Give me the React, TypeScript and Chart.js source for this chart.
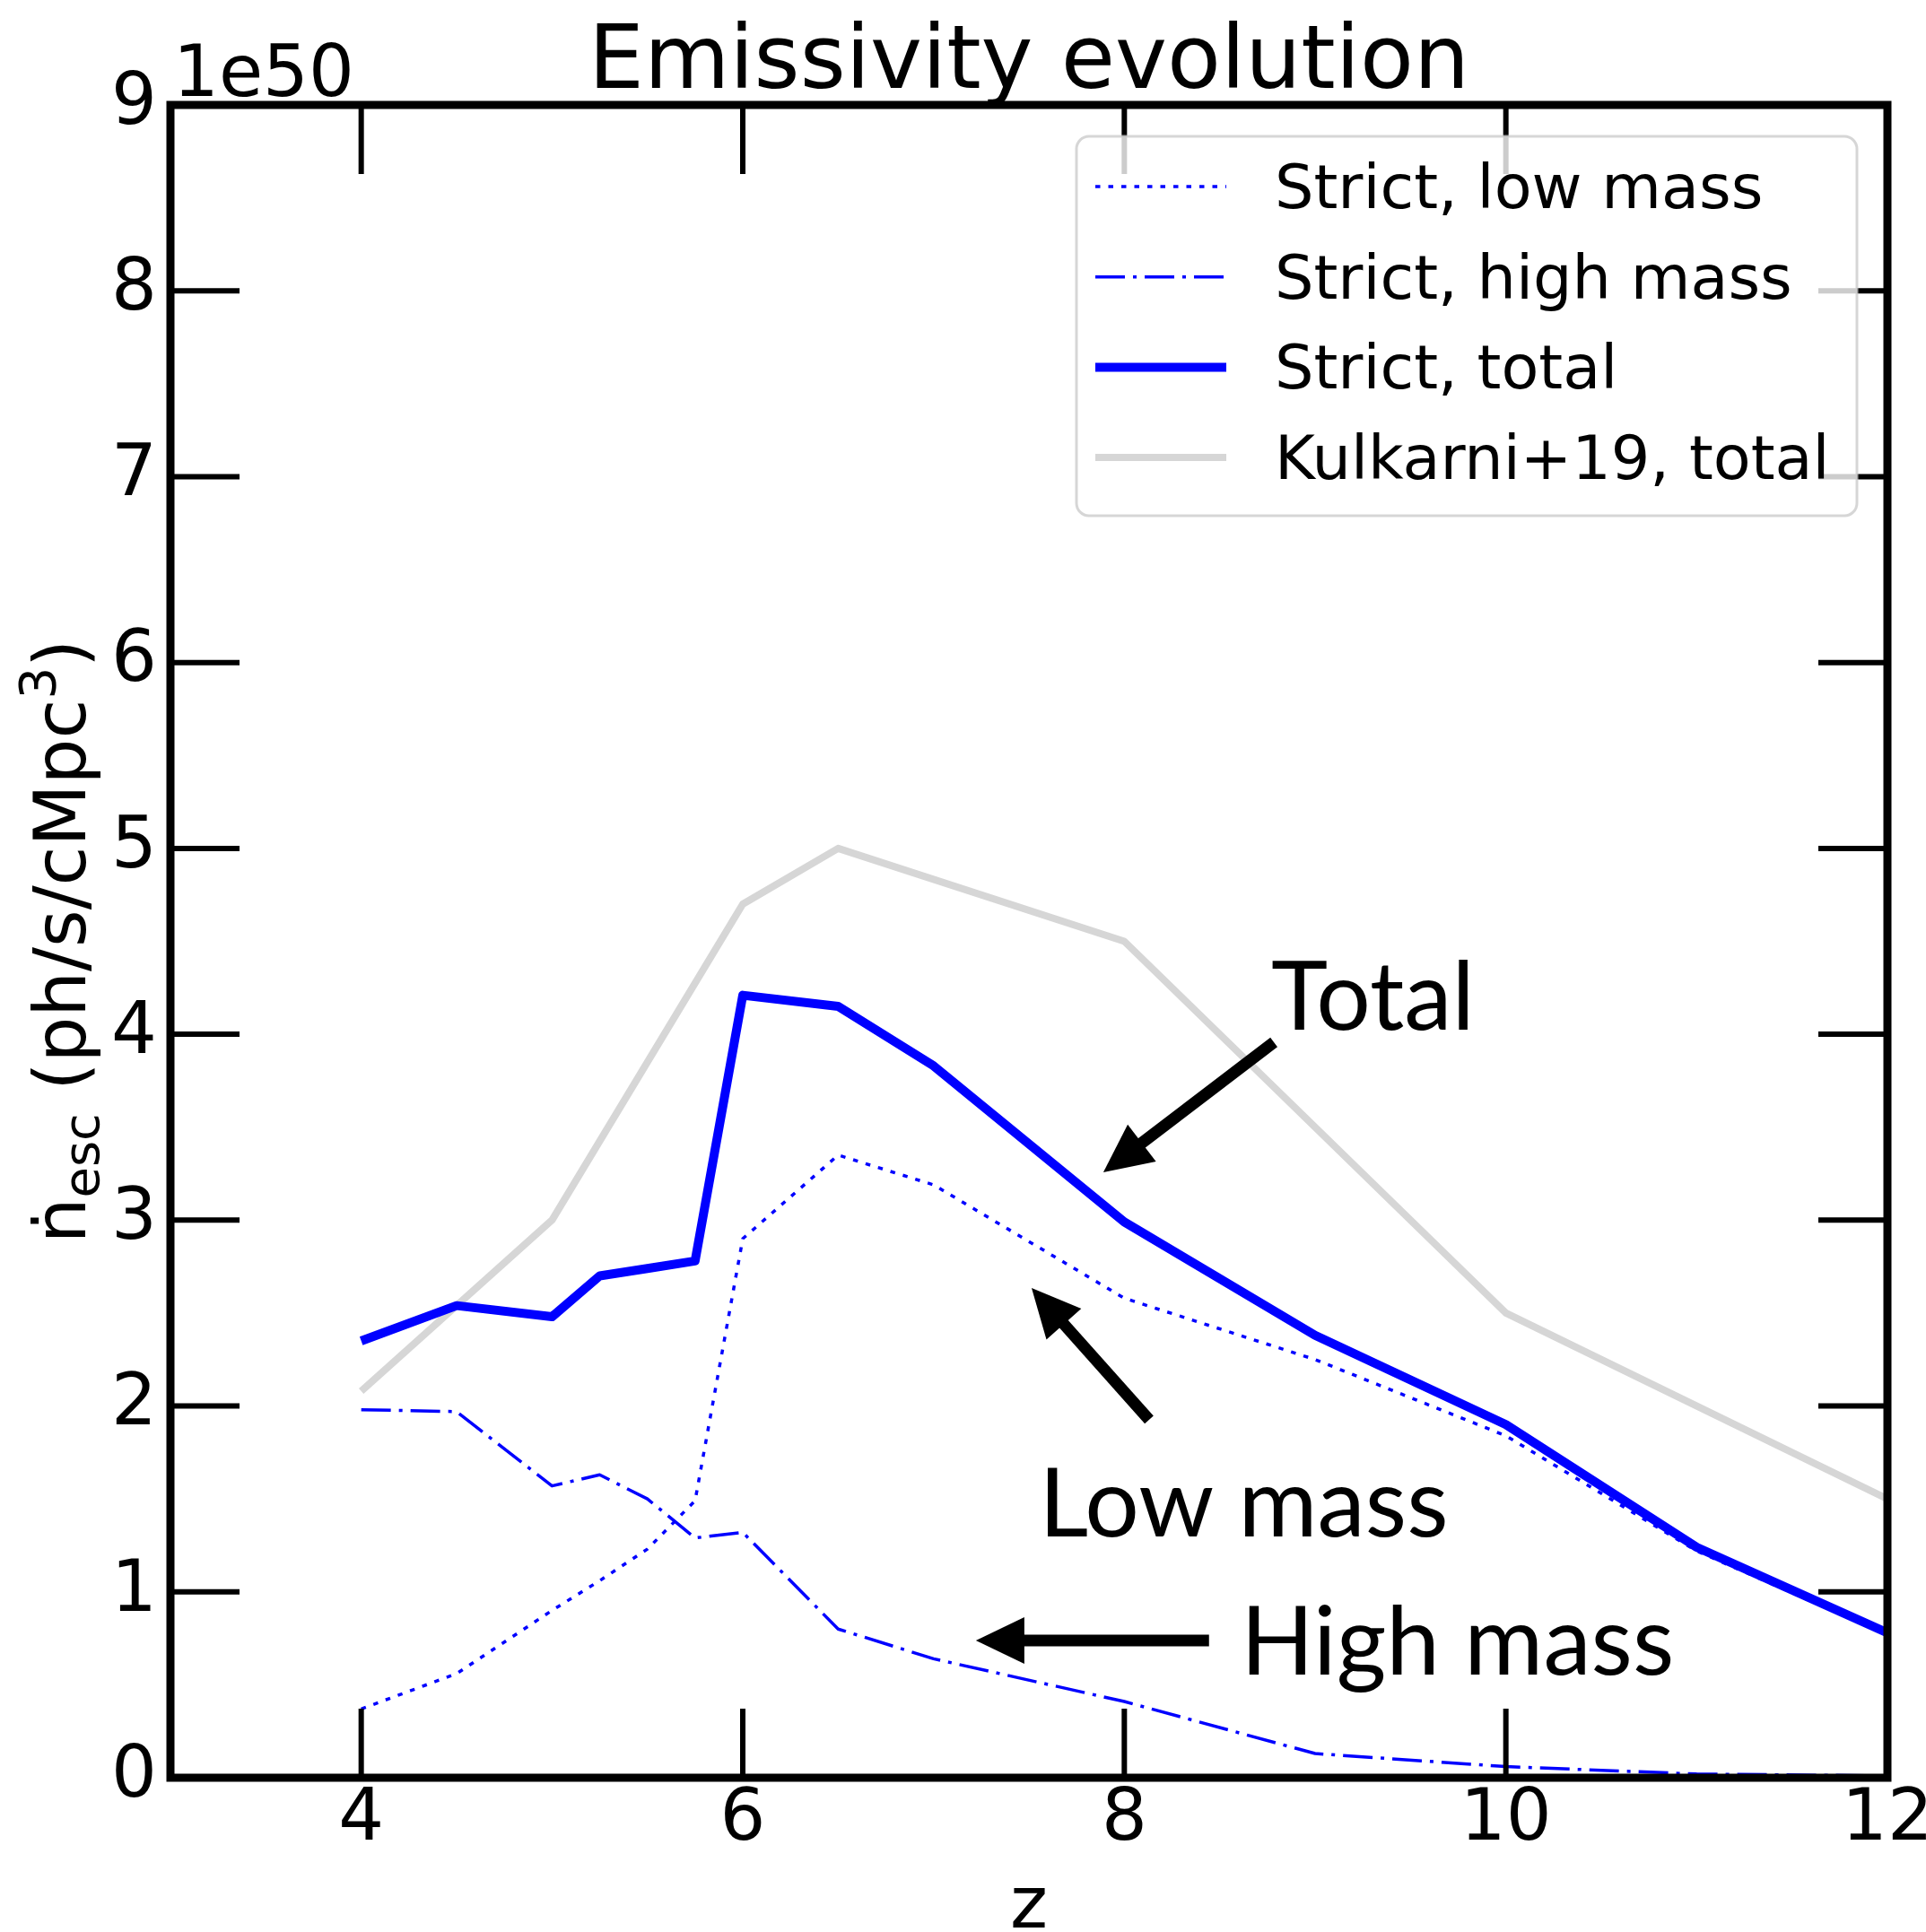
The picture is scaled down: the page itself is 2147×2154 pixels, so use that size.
import React, { useEffect, useRef } from 'react';
import { Chart, registerables } from 'chart.js';

Chart.register(...registerables);

// ---------- data (units of 1e50 ph/s/cMpc^3) ----------
const zStrict = [4, 4.5, 5, 5.25, 5.5, 5.75, 6, 6.5, 7, 8, 9, 10, 11, 12];
const strictLowMass = [0.37, 0.56, 0.9, 1.06, 1.23, 1.49, 2.9, 3.35, 3.19, 2.58, 2.25, 1.84, 1.22, 0.77];
const strictHighMass = [1.98, 1.97, 1.57, 1.63, 1.5, 1.29, 1.32, 0.8, 0.64, 0.41, 0.13, 0.06, 0.02, 0.01];
const strictTotal = [2.35, 2.54, 2.48, 2.7, 2.74, 2.78, 4.21, 4.15, 3.83, 2.99, 2.38, 1.9, 1.24, 0.78];

const zKulkarni = [4, 5, 6, 6.5, 8, 10, 12];
const kulkarniTotal = [2.08, 3.0, 4.7, 5.0, 4.5, 2.5, 1.5];

const xTickValues = [4, 6, 8, 10, 12];
const yTickValues = [0, 1, 2, 3, 4, 5, 6, 7, 8, 9];

const titleText = 'Emissivity evolution';
const offsetText = '1e50';
const xAxisTitle = 'z';

const legendLabels = ['Strict, low mass', 'Strict, high mass', 'Strict, total', 'Kulkarni+19, total'];

// annotations (in data coordinates)
const annotationTexts = ['Total', 'Low mass', 'High mass'];
const annotationTextPos = [
  [8.77, 4.025],
  [7.553, 1.298],
  [8.61, 0.555],
];
const annotationArrows = [
  [8.784, 3.957, 7.89, 3.257],
  [8.13, 1.926, 7.514, 2.635],
  [8.444, 0.738, 7.222, 0.738],
];

// ---------- styles ----------
const BLUE = '#0000ff';
const GRAY = '#d6d6d6';
const FONT = '"DejaVu Sans", sans-serif';
const ANNOT_FONT = 'Lato, "Open Sans", sans-serif';

const seriesStyles = [
  { color: BLUE, width: 3.5, dash: [5.5, 9] },
  { color: BLUE, width: 3.5, dash: [33, 9, 4, 9] },
  { color: BLUE, width: 10, dash: [] as number[] },
  { color: GRAY, width: 8, dash: [] as number[] },
];

const toPoints = (xs: number[], ys: number[]) => xs.map((x, i) => ({ x, y: ys[i] }));

const overlayPlugin = {
  id: 'overlay',
  afterDatasetsDraw(chart: any) {
    const { ctx, chartArea: a, scales } = chart;
    const xs = scales.x;
    const ys = scales.y;
    const TICK = 77;
    ctx.save();

    // ticks (inward, all four sides)
    ctx.strokeStyle = '#000';
    ctx.lineWidth = 6;
    ctx.lineCap = 'butt';
    const line = (x0: number, y0: number, x1: number, y1: number) => {
      ctx.beginPath();
      ctx.moveTo(x0, y0);
      ctx.lineTo(x1, y1);
      ctx.stroke();
    };
    xTickValues.forEach((v) => {
      const px = xs.getPixelForValue(v);
      line(px, a.bottom, px, a.bottom - TICK);
      line(px, a.top, px, a.top + TICK);
    });
    yTickValues.forEach((v) => {
      const py = ys.getPixelForValue(v);
      line(a.left, py, a.left + TICK, py);
      line(a.right, py, a.right - TICK, py);
    });

    // spines
    ctx.lineWidth = 9;
    ctx.lineJoin = 'miter';
    ctx.strokeRect(a.left, a.top, a.right - a.left, a.bottom - a.top);

    // legend
    const lx0 = 1200, ly0 = 152, lx1 = 2070, ly1 = 575;
    ctx.beginPath();
    (ctx as any).roundRect(lx0, ly0, lx1 - lx0, ly1 - ly0, 14);
    ctx.fillStyle = 'rgba(255,255,255,0.8)';
    ctx.fill();
    ctx.lineWidth = 3;
    ctx.strokeStyle = 'rgba(204,204,204,0.8)';
    ctx.stroke();
    legendLabels.forEach((label, i) => {
      const st = seriesStyles[i];
      const ry = 208 + i * 100.7;
      ctx.save();
      ctx.strokeStyle = st.color;
      ctx.lineWidth = st.width;
      ctx.setLineDash(st.dash);
      ctx.lineCap = 'butt';
      ctx.beginPath();
      ctx.moveTo(1221, ry);
      ctx.lineTo(1367, ry);
      ctx.stroke();
      ctx.restore();
      ctx.fillStyle = '#000';
      ctx.font = `68.5px ${FONT}`;
      ctx.textAlign = 'left';
      ctx.textBaseline = 'alphabetic';
      ctx.fillText(label, 1421, ry + 24);
    });

    // annotations
    ctx.fillStyle = '#000';
    ctx.strokeStyle = '#000';
    ctx.font = `107px ${ANNOT_FONT}`;
    ctx.textAlign = 'left';
    ctx.textBaseline = 'alphabetic';
    annotationTexts.forEach((t, i) => {
      const [x, y] = annotationTextPos[i];
      ctx.fillText(t, xs.getPixelForValue(x), ys.getPixelForValue(y));
    });
    annotationArrows.forEach(([x0, y0, x1, y1]) => {
      const sx = xs.getPixelForValue(x0), sy = ys.getPixelForValue(y0);
      const tx = xs.getPixelForValue(x1), ty = ys.getPixelForValue(y1);
      const dx = tx - sx, dy = ty - sy;
      const len = Math.hypot(dx, dy);
      const ux = dx / len, uy = dy / len;
      const HL = 54, HW = 26;
      const bx = tx - ux * HL, by = ty - uy * HL;
      ctx.lineWidth = 13;
      ctx.lineCap = 'butt';
      ctx.beginPath();
      ctx.moveTo(sx, sy);
      ctx.lineTo(bx + ux * 2, by + uy * 2);
      ctx.stroke();
      ctx.beginPath();
      ctx.moveTo(tx, ty);
      ctx.lineTo(bx - uy * HW, by + ux * HW);
      ctx.lineTo(bx + uy * HW, by - ux * HW);
      ctx.closePath();
      ctx.fill();
    });

    // title
    ctx.font = `98px ${FONT}`;
    ctx.textAlign = 'center';
    ctx.fillText(titleText, (a.left + a.right) / 2, 98);

    // offset text
    ctx.font = `80px ${FONT}`;
    ctx.textAlign = 'left';
    ctx.fillText(offsetText, a.left + 3, 107);

    // x axis title
    ctx.textAlign = 'center';
    ctx.fillText(xAxisTitle, (a.left + a.right) / 2, 2149);

    // y axis title
    ctx.save();
    ctx.translate(95, (a.top + a.bottom) / 2);
    ctx.rotate(-Math.PI / 2);
    ctx.textAlign = 'left';
    const big = `80px ${FONT}`;
    const small = `56px ${FONT}`;
    const segs = [
      { t: 'ṅ', f: big, dy: 0 },
      { t: 'esc', f: small, dy: 15 },
      { t: ' (ph/s/cMpc', f: big, dy: 0 },
      { t: '3', f: small, dy: -34 },
      { t: ')', f: big, dy: 0 },
    ];
    let total = 0;
    segs.forEach((s) => {
      ctx.font = s.f;
      total += ctx.measureText(s.t).width;
    });
    let cx = -total / 2;
    segs.forEach((s) => {
      ctx.font = s.f;
      ctx.fillText(s.t, cx, s.dy);
      cx += ctx.measureText(s.t).width;
    });
    ctx.restore();

    ctx.restore();
  },
};

export default function App() {
  const canvasRef = useRef<HTMLCanvasElement | null>(null);

  useEffect(() => {
    document.body.style.margin = '0';
    const canvas = canvasRef.current;
    if (!canvas) return;
    const ds = (label: string, data: any[], i: number, order: number) => ({
      label,
      data,
      borderColor: seriesStyles[i].color,
      backgroundColor: seriesStyles[i].color,
      borderWidth: seriesStyles[i].width,
      borderDash: seriesStyles[i].dash,
      borderJoinStyle: 'round' as const,
      borderCapStyle: 'butt' as const,
      pointRadius: 0,
      tension: 0,
      fill: false,
      order,
    });
    const chart = new Chart(canvas, {
      type: 'line',
      data: {
        datasets: [
          ds(legendLabels[0], toPoints(zStrict, strictLowMass), 0, 1),
          ds(legendLabels[1], toPoints(zStrict, strictHighMass), 1, 2),
          ds(legendLabels[2], toPoints(zStrict, strictTotal), 2, 0),
          ds(legendLabels[3], toPoints(zKulkarni, kulkarniTotal), 3, 3),
        ],
      },
      options: {
        animation: false,
        responsive: false,
        devicePixelRatio: 1,
        layout: { padding: { top: 117, right: 43, left: 0, bottom: 0 } },
        plugins: {
          legend: { display: false },
          title: { display: false },
          tooltip: { enabled: false },
        },
        scales: {
          x: {
            type: 'linear',
            min: 3,
            max: 12,
            grid: { display: false, drawTicks: false },
            border: { display: false },
            ticks: {
              color: '#000',
              font: { family: FONT, size: 80 },
              padding: 0,
              maxRotation: 0,
              autoSkip: false,
            },
            afterBuildTicks: (s: any) => {
              s.ticks = xTickValues.map((v) => ({ value: v }));
            },
            afterFit: (s: any) => {
              s.height = 172;
              s.paddingLeft = 0;
              s.paddingRight = 0;
            },
          },
          y: {
            type: 'linear',
            min: 0,
            max: 9,
            grid: { display: false, drawTicks: false },
            border: { display: false },
            ticks: {
              color: '#000',
              font: { family: FONT, size: 80 },
              padding: 15,
              autoSkip: false,
            },
            afterBuildTicks: (s: any) => {
              s.ticks = yTickValues.map((v) => ({ value: v }));
            },
            afterFit: (s: any) => {
              s.width = 190;
              s.paddingTop = 0;
              s.paddingBottom = 0;
            },
          },
        },
      },
      plugins: [overlayPlugin],
    } as any);
    return () => chart.destroy();
  }, []);

  return (
    <div style={{ position: 'absolute', left: 0, top: 0 }}>
      <canvas ref={canvasRef} width={2147} height={2154} style={{ display: 'block', width: 2147, height: 2154 }} />
    </div>
  );
}
